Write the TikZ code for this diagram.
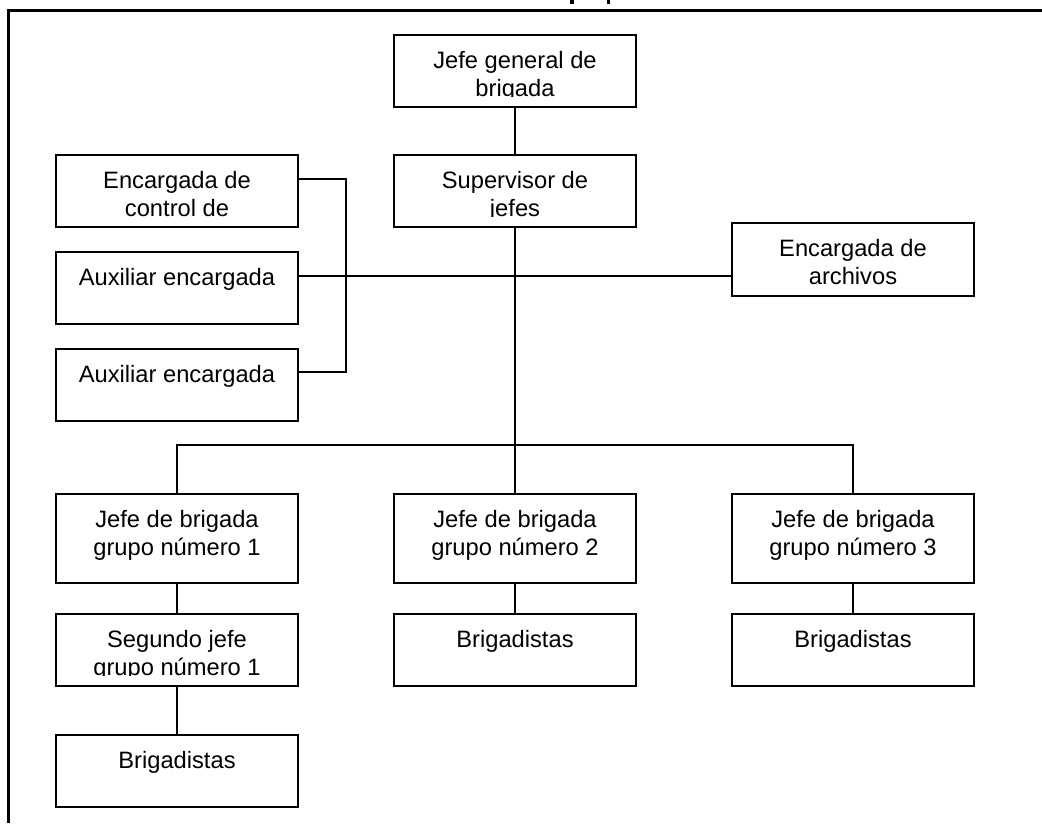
\documentclass[tikz,border=0pt]{standalone}
\usepackage{fontspec}
\setmainfont{Liberation Sans}

% \orgbox{name}{left}{top}{height}{text}: framed box with top-aligned text,
% the text clipped to the upper part of the box
\newcommand\orgbox[5]{%
  \node[box, minimum height=#4pt] (#1) at (#2+121,#3+#4/2) {};
  \begin{scope}
    \clip (#2,#3) rectangle (#2+242,#3+#4-11);
    \node[lbl] (#1-text) at (#2+121,#3+33)
      {\parbox[t]{236pt}{\centering\fontsize{23.7}{28}\selectfont #5}};
  \end{scope}}

\begin{document}
\begin{tikzpicture}[x=1pt,y=-1pt,
  box/.style={draw, line width=2.2pt, rectangle, inner sep=0pt, minimum width=242pt},
  lbl/.style={anchor=base, inner sep=0pt},
  link/.style={line width=2pt},
  frame/.style={line width=2.4pt, line join=miter}]
\useasboundingbox (0,0) rectangle (1042,823);

% outer frame and the lower ends of the cut-off heading
\draw[frame] (8.3,823) -- (8.3,10.5) -- (1042,10.5);
\fill (570,0) rectangle (573.5,4);
\fill (606.5,0) rectangle (610,4);

% boxes
\orgbox{jg}{394}{35}{72}{Jefe general de\\brigada}
\orgbox{sv}{394}{155}{72}{Supervisor de\\jefes}
\orgbox{enc}{56}{155}{72}{Encargada de\\control de}
\orgbox{aux1}{56}{252}{72}{Auxiliar encargada}
\orgbox{aux2}{56}{349}{72}{Auxiliar encargada}
\orgbox{arch}{732}{223}{73}{Encargada de\\archivos}
\orgbox{j1}{56}{494}{89}{Jefe de brigada\\grupo número 1}
\orgbox{j2}{394}{494}{89}{Jefe de brigada\\grupo número 2}
\orgbox{j3}{732}{494}{89}{Jefe de brigada\\grupo número 3}
\orgbox{s1}{56}{614}{72}{Segundo jefe\\grupo número 1}
\orgbox{b1}{56}{735}{72}{Brigadistas}
\orgbox{b2}{394}{614}{72}{Brigadistas}
\orgbox{b3}{732}{614}{72}{Brigadistas}

% connectors
\coordinate (bt) at (346,179);
\coordinate (bb) at (346,372);
\coordinate (hl) at (346,276);
\coordinate (bus) at (515,445);

\draw[link] (enc.east |- bt) -- (bt) -- (bb) -- (aux2.east |- bb);
\draw[link] (aux1.east |- hl) -- (arch.west |- hl);
\draw[link] (jg) -- (sv);
\draw[link] (sv) -- (bus);
\draw[link] (j1.north) |- (bus) -| (j3.north);
\draw[link] (bus) -- (j2.north);
\draw[link] (j1) -- (s1);
\draw[link] (s1) -- (b1);
\draw[link] (j2) -- (b2);
\draw[link] (j3) -- (b3);
\end{tikzpicture}
\end{document}
